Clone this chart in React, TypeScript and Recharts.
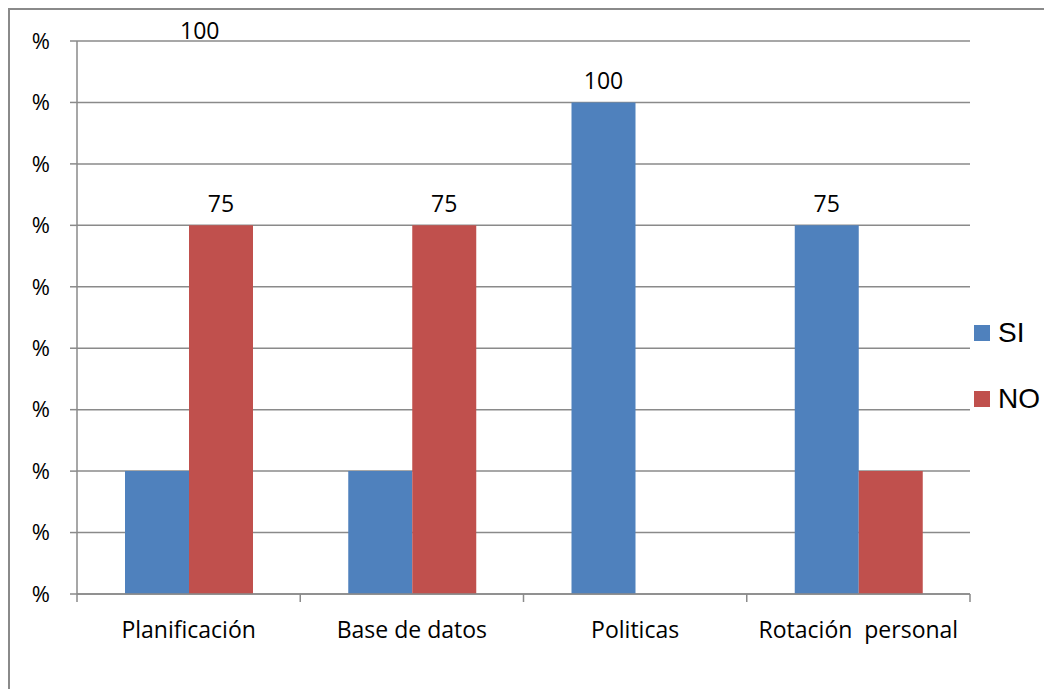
import React from "react";
import { BarChart, Bar, XAxis, YAxis, CartesianGrid, LabelList } from "recharts";

const categories = ["Planificación", "Base de datos", "Politicas", "Rotación  personal"];
const siValues = [25, 25, 100, 75];
const noValues = [75, 75, 0, 25];
// only some bars carry a value label in the original
const siLabels = [null, null, 100, 75];
const noLabels = [75, 75, null, null];
const yTicks = [0, 12.5, 25, 37.5, 50, 62.5, 75, 87.5, 100, 112.5];
const strayLabel = "100";
const seriesNames = ["SI", "NO"];

const data = categories.map((name, i) => ({
  name,
  SI: siValues[i],
  NO: noValues[i],
  siLabel: siLabels[i],
  noLabel: noLabels[i],
}));

const FONT = "'Open Sans', sans-serif";
const GRID = "#8a8a8a";
const BLUE = "#4F81BD";
const RED = "#C0504D";
const seriesColors = [BLUE, RED];

const CategoryTick = (props: any) => {
  const { x, y, payload, index, visibleTicksCount, width } = props;
  const n = visibleTicksCount || 4;
  const half = (width || 893) / n / 2;
  return (
    <g>
      <line x1={x - half} y1={y} x2={x - half} y2={y + 8} stroke={GRID} strokeWidth={1.5} />
      {index === n - 1 && (
        <line x1={x + half} y1={y} x2={x + half} y2={y + 8} stroke={GRID} strokeWidth={1.5} />
      )}
      <text
        x={x}
        y={y + 44}
        textAnchor="middle"
        fill="#000"
        fontFamily={FONT}
        fontSize={23}
        style={{ whiteSpace: "pre" }}
      >
        {payload.value}
      </text>
    </g>
  );
};

export default function App() {
  return (
    <div style={{ position: "relative", width: 1044, height: 681 }}>
      <div
        style={{
          position: "absolute",
          left: 0,
          top: 0,
          width: 1044,
          height: 681,
          borderLeft: `2px solid ${GRID}`,
          borderTop: `2px solid ${GRID}`,
          boxSizing: "border-box",
        }}
      />
      <div
        style={{
          position: "absolute",
          left: 172,
          top: 6,
          fontFamily: FONT,
          fontSize: 23,
          color: "#000",
        }}
      >
        {strayLabel}
      </div>
      <div
        style={{
          position: "absolute",
          left: 966,
          top: 305,
          fontFamily: "'Liberation Sans', Arial, sans-serif",
          fontSize: 28,
          color: "#000",
        }}
      >
        {seriesNames.map((name, i) => (
          <div key={name} style={{ display: "flex", alignItems: "center", height: 40, marginBottom: i === 0 ? 26 : 0 }}>
            <span style={{ display: "inline-block", width: 16, height: 16, background: seriesColors[i], marginRight: 8 }} />
            <span>{name}</span>
          </div>
        ))}
      </div>
      <BarChart
        width={1044}
        height={681}
        data={data}
        margin={{ top: 33, right: 82, bottom: 45, left: 9 }}
        barCategoryGap={48}
        barGap={0}
        style={{ position: "absolute", left: 0, top: 0 }}
      >
        <CartesianGrid vertical={false} stroke={GRID} strokeWidth={1.5} />
        <XAxis
          dataKey="name"
          height={50}
          stroke={GRID}
          strokeWidth={1.5}
          tickLine={false}
          tickSize={0}
          tickMargin={0}
          tick={<CategoryTick />}
          interval={0}
        />
        <YAxis
          width={60}
          domain={[0, 112.5]}
          ticks={yTicks}
          tickFormatter={() => "%"}
          stroke={GRID}
          strokeWidth={1.5}
          tickSize={7}
          tickMargin={20}
          tick={{ fill: "#000", fontFamily: FONT, fontSize: 22 }}
          interval={0}
        />
        <Bar dataKey="SI" fill={BLUE} isAnimationActive={false}>
          <LabelList dataKey="siLabel" position="top" offset={13} fill="#000" fontFamily={FONT} fontSize={23} />
        </Bar>
        <Bar dataKey="NO" fill={RED} isAnimationActive={false}>
          <LabelList dataKey="noLabel" position="top" offset={13} fill="#000" fontFamily={FONT} fontSize={23} />
        </Bar>
      </BarChart>
    </div>
  );
}
